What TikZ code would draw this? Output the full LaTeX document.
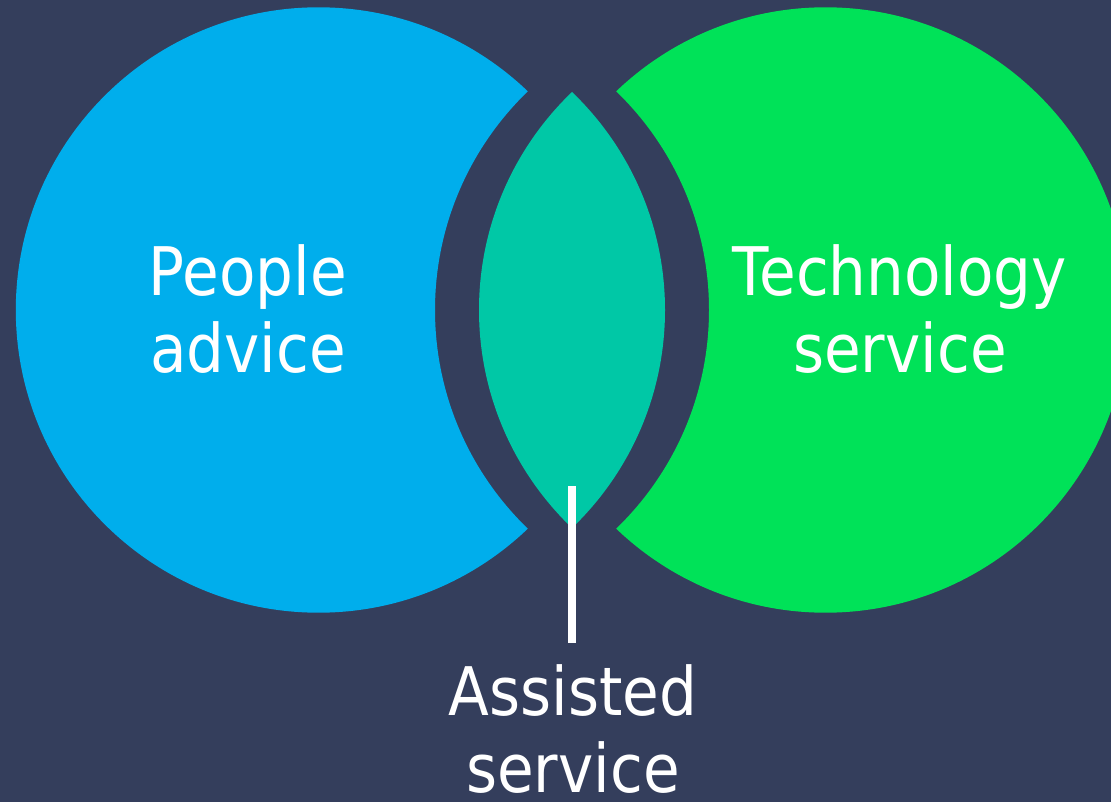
\documentclass[tikz,border=0pt]{standalone}
\usepackage{fontspec}
\setmainfont{DejaVu Sans}[FakeStretch=0.89]
\begin{document}
\begin{tikzpicture}[x=1pt,y=-1pt,
  label/.style={text=white,inner sep=0pt,align=center,
    font=\fontsize{67}{77}\selectfont}]
\definecolor{bg}{RGB}{52,62,92}
\definecolor{peopleblue}{RGB}{0,174,236}
\definecolor{techgreen}{RGB}{0,226,88}
\definecolor{lensteal}{RGB}{0,200,166}
\useasboundingbox (0,0) rectangle (1111,802);
\fill[bg] (0,0) rectangle (1111,802);
% left disc with a concave notch facing the centre
\begin{scope}[even odd rule]
  \clip (0,0) rectangle (1111,802) (739,310) circle (304pt);
  \fill[peopleblue] (318.5,310) circle (302.7pt);
\end{scope}
% right disc, mirrored notch
\begin{scope}[even odd rule]
  \clip (0,0) rectangle (1111,802) (405,310) circle (304pt);
  \fill[techgreen] (825.5,310) circle (302.7pt);
\end{scope}
% central lens
\begin{scope}
  \clip (363,310) circle (302pt);
  \fill[lensteal] (781,310) circle (302pt);
\end{scope}
% labels (base anchor sits on the last line)
\node[label,anchor=base] (people) at (248,372) {People\\advice};
\node[label,anchor=base] (tech) at (900,372) {Technology\\service};
\node[label,anchor=base] (assisted) at (573,792) {Assisted\\service};
% pointer from the lens to its label
\coordinate (ticktop) at (572,486);
\coordinate (tickend) at (572,643);
\draw[white,line width=8pt] (ticktop) -- (tickend);
\end{tikzpicture}
\end{document}
